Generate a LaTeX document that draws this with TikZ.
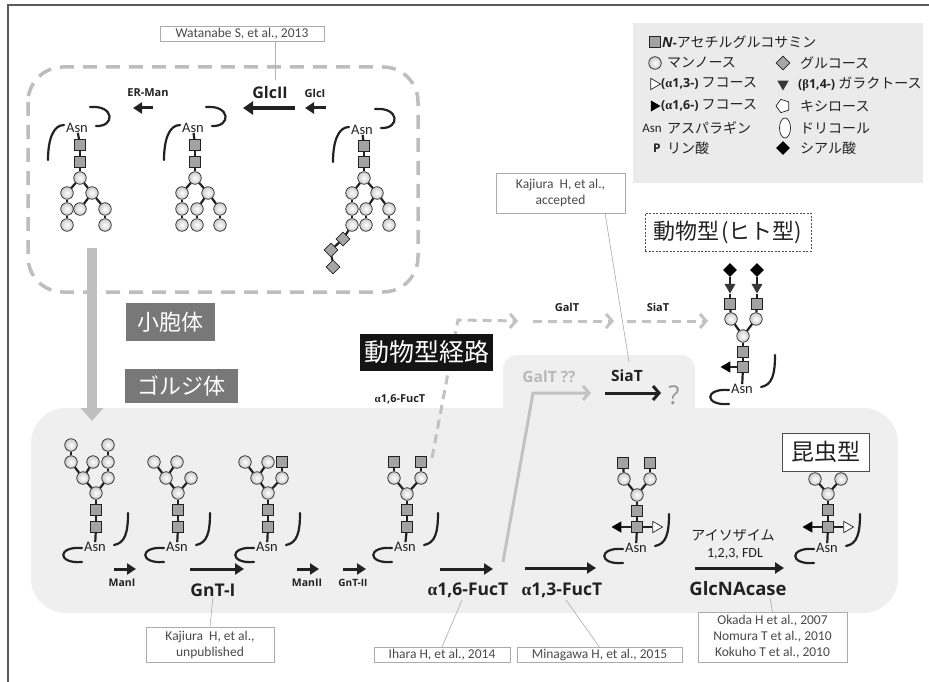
\documentclass[tikz,border=0pt]{standalone}
\usepackage{fontspec}
\setmainfont{Carlito}
\newfontfamily\osans{Open Sans}
\newfontfamily\jp{Noto Sans CJK JP}
\newfontfamily\grk{Liberation Serif}
\usetikzlibrary{arrows.meta,shapes.geometric,calc}
\newcommand\setfs[2]{\fontsize{#1}{#2}\selectfont}
\newcommand\alp{{\grk α}}
\newcommand\bet{{\grk β}}
\newcommand\lgb{\osans\bfseries\setfs{12.5pt}{12.5pt}}
\definecolor{frameC}{HTML}{5A5A5A}
\definecolor{erDash}{HTML}{BDBDBD}
\definecolor{golgiC}{HTML}{EFEFEF}
\definecolor{legC}{HTML}{EBEBEB}
\definecolor{labBox}{HTML}{787878}
\definecolor{pathC}{HTML}{C2C2C2}
\definecolor{citeT}{HTML}{4A4A4A}
\definecolor{citeB}{HTML}{ABABAB}
\definecolor{glcC}{HTML}{A3A3A3}
\definecolor{inkC}{HTML}{222222}
\tikzset{
  lnk/.style={draw=inkC,line width=2.2pt},
  pep/.style={draw=inkC,line width=2.2pt,line cap=round},
  sq/.style={rectangle,draw=inkC,line width=0.7pt,fill=glcC,minimum size=10.5pt,inner sep=0pt},
  mn/.style={circle,draw=inkC,line width=0.7pt,inner color=white,outer color=gray!40,minimum size=12.5pt,inner sep=0pt},
  glu/.style={diamond,draw=inkC,line width=0.7pt,fill=gray!70,minimum size=14pt,inner sep=0pt},
  sia/.style={diamond,fill=black,minimum size=14pt,inner sep=0pt},
  gal/.style={regular polygon,regular polygon sides=3,shape border rotate=180,fill=inkC!90,minimum size=13pt,inner sep=0pt},
  fucL/.style={regular polygon,regular polygon sides=3,shape border rotate=90,fill=black,minimum size=13pt,inner sep=0pt},
  fucR/.style={regular polygon,regular polygon sides=3,shape border rotate=-90,fill=white,draw=inkC,line width=0.7pt,minimum size=13pt,inner sep=0pt},
  fucRk/.style={regular polygon,regular polygon sides=3,shape border rotate=-90,fill=black,minimum size=13pt,inner sep=0pt},
  xyl/.style={regular polygon,regular polygon sides=5,shape border rotate=90,fill=white,draw=inkC,line width=0.7pt,minimum size=14pt,inner sep=0pt},
  dol/.style={ellipse,fill=white,draw=inkC,line width=0.7pt,minimum width=11pt,minimum height=20pt,inner sep=0pt},
  asn/.style={font=\setfs{14.5pt}{14.5pt},inner sep=0pt,text=inkC},
  ea/.style={draw=inkC,line width=3pt,-{Triangle[length=9pt,width=11pt]}},
  eab/.style={draw=inkC,line width=3.8pt,-{Triangle[length=10pt,width=13pt]}},
  garr/.style={draw=pathC,line width=3pt,dash pattern=on 9pt off 6pt,-{Straight Barb[length=6pt,width=14pt]}},
  gsolid/.style={draw=pathC,line width=3pt,-{Straight Barb[length=6pt,width=14pt]}},
  ksolid/.style={draw=inkC,line width=3pt,-{Straight Barb[length=6pt,width=14pt]}},
  elab/.style={font=\osans\bfseries,inner sep=0pt,text=inkC},
  cite/.style={draw=citeB,line width=0.8pt,fill=white,text=citeT,inner sep=0pt,align=center,font=\setfs{13.5pt}{16pt}},
  cline/.style={draw=gray!60,line width=0.7pt},
  lg/.style={anchor=west,inner sep=0pt,text=inkC,font=\jp\setfs{14pt}{14pt}},
  jlab/.style={fill=labBox,text=white,font=\jp\setfs{22pt}{22pt},inner sep=0pt},
  pepdn/.pic={
    \draw[pep] (-29,32) .. controls (-29,12) and (-24,-3) .. (-13,-3);
    \draw[pep] (13,-21) .. controls (38,-23) and (38,-1) .. (19,-2);
  },
  pepup/.pic={
    \draw[pep] (-13,1) .. controls (-38,-1) and (-38,17) .. (-13,15);
    \draw[pep] (33,-34) .. controls (33,-14) and (30,-4) .. (19,-2);
  }
}
\begin{document}
\begin{tikzpicture}[x=1pt,y=-1pt]
\useasboundingbox (0,0) rectangle (929,682);
% outer frame
\draw[frameC,line width=2pt] (929,5) -- (8,5) -- (8,682);

% Golgi compartment
\fill[golgiC,rounded corners=35pt] (31,408) rectangle (898,613);
\fill[golgiC,rounded corners=14pt] (503,355) rectangle (695,440);

% ER compartment
\draw[erDash,line width=3.5pt,dash pattern=on 14pt off 9pt,rounded corners=35pt] (28,67) rectangle (418,292);

% legend
\node[fill=legC,minimum width=290pt,minimum height=160pt,inner sep=0pt] (legend) at (778,103) {};
\node[sq] (lg1) at (655,42) {};
\node[lg] (lg1t) at (662,42) {{\osans\bfseries\itshape N}{\lgb -}アセチルグルコサミン};
\node[mn] (lg2) at (655,63) {};
\node[lg] (lg2t) at (667,63) {マンノース};
\node[glu] (lg3) at (783,63) {};
\node[lg] (lg3t) at (800,63) {グルコース};
\node[fucR] (lg4) at (654,84) {};
\node[lg] (lg4t) at (661,84) {{\lgb(\alp1,3-)} フコース};
\node[gal] (lg5) at (783,84) {};
\node[lg] (lg5t) at (798,84) {{\lgb(\bet1,4-)} ガラクトース};
\node[fucRk] (lg6) at (654,106) {};
\node[lg] (lg6t) at (661,106) {{\lgb(\alp1,6-)} フコース};
\node[xyl] (lg7) at (783,106) {};
\node[lg] (lg7t) at (800,106) {キシロース};
\node[inner sep=0pt,font=\setfs{13pt}{13pt},text=inkC] (lg8) at (652,128) {Asn};
\node[lg] (lg8t) at (667,128) {アスパラギン};
\node[dol] (lg9) at (785,128) {};
\node[lg] (lg9t) at (800,128) {ドリコール};
\node[inner sep=0pt,font=\osans\bfseries\setfs{12pt}{12pt},text=inkC] (lg10) at (657,148) {P};
\node[lg] (lg10t) at (667,148) {リン酸};
\node[sia] (lg11) at (783,148) {};
\node[lg] (lg11t) at (800,148) {シアル酸};

% citation boxes
\node[cite,minimum width=164pt,minimum height=15pt] (wat) at (242,34) {Watanabe S, et al., 2013};
\node[cite,minimum width=129pt,minimum height=40pt] (kjA) at (560.5,193) {Kajiura\ \ H, et al.,\\accepted};
\node[cite,minimum width=128pt,minimum height=35pt] (kjU) at (210,644.5) {Kajiura\ \ H, et al.,\\unpublished};
\node[cite,minimum width=136pt,minimum height=15pt] (ihara) at (442,655) {Ihara H, et al., 2014};
\node[cite,minimum width=165pt,minimum height=15pt] (mina) at (599.5,655) {Minagawa H, et al., 2015};
\node[cite,minimum width=149pt,minimum height=50pt] (okada) at (772.5,637) {Okada H et al., 2007\\Nomura T et al., 2010\\Kokuho T et al., 2010};

% compartment labels
\node[jlab,minimum width=89pt,minimum height=38pt] (vesicle) at (170.5,322) {小胞体};
\node[jlab,minimum width=113pt,minimum height=34pt] (golgi) at (181.5,386) {ゴルジ体};

% ER to Golgi transport
\coordinate (trA) at (92,248);
\coordinate (trB) at (92,421);
\draw[draw=gray!50,line width=10pt,-{Triangle[length=13pt,width=22pt]}] (trA) -- (trB);

% ER enzymes
\node[elab,font=\osans\bfseries\setfs{11pt}{11pt}] (erman) at (148,93) {ER-Man};
\node[elab,font=\osans\bfseries\setfs{16pt}{16pt}] (glcii) at (270,93) {GlcII};
\node[elab,font=\osans\bfseries\setfs{11pt}{11pt}] (glci) at (315,93) {GlcI};
\coordinate (ermA) at (153,108); \coordinate (ermB) at (133,108);
\coordinate (g2A) at (295,108); \coordinate (g2B) at (243,108);
\coordinate (g1A) at (326,108); \coordinate (g1B) at (305,108);
\draw[ea] (ermA) -- (ermB);
\draw[eab] (g2A) -- (g2B);
\draw[ea] (g1A) -- (g1B);
\coordinate (watL) at (275,80);
\draw[cline] (wat.south -| watL) -- (watL);

% ER glycan 1
\node[asn] (eaN) at (77,128) {Asn};
\node[sq] (eaS1) at (80,145) {}; \node[sq] (eaS2) at (80,162) {};
\node[mn] (eaC) at (80,178) {};
\node[mn] (eaL1) at (67,193) {}; \node[mn] (eaL2) at (67,209) {}; \node[mn] (eaL3) at (67,225) {};
\node[mn] (eaR1) at (92,193) {}; \node[mn] (eaR2) at (80,209) {};
\node[mn] (eaR3) at (105,209) {}; \node[mn] (eaR4) at (105,225) {};
\foreach \a/\b in {eaN/eaS1,eaS1/eaS2,eaS2/eaC,eaC/eaL1,eaL1/eaL2,eaL2/eaL3,eaC/eaR1,eaR1/eaR2,eaR1/eaR3,eaR3/eaR4}
  \draw[lnk] (\a) -- (\b);
\pic at (77,128) {pepdn};

% ER glycan 2
\node[asn] (ebN) at (193,128) {Asn};
\node[sq] (ebS1) at (195,145) {}; \node[sq] (ebS2) at (195,162) {};
\node[mn] (ebC) at (195,178) {};
\node[mn] (ebL1) at (182,193) {}; \node[mn] (ebL2) at (182,209) {}; \node[mn] (ebL3) at (182,225) {};
\node[mn] (ebR1) at (208,193) {}; \node[mn] (ebR2) at (197,209) {}; \node[mn] (ebR3) at (197,225) {};
\node[mn] (ebR4) at (220,209) {}; \node[mn] (ebR5) at (220,225) {};
\foreach \a/\b in {ebN/ebS1,ebS1/ebS2,ebS2/ebC,ebC/ebL1,ebL1/ebL2,ebL2/ebL3,ebC/ebR1,ebR1/ebR2,ebR2/ebR3,ebR1/ebR4,ebR4/ebR5}
  \draw[lnk] (\a) -- (\b);
\pic at (193,128) {pepdn};

% ER glycan 3
\node[asn] (ecN) at (362,130) {Asn};
\node[sq] (ecS1) at (364,146) {}; \node[sq] (ecS2) at (364,162) {};
\node[mn] (ecC) at (364,178) {};
\node[mn] (ecL1) at (352,193) {}; \node[mn] (ecL2) at (352,209) {}; \node[mn] (ecL3) at (352,225) {};
\node[mn] (ecR1) at (377,193) {}; \node[mn] (ecR2) at (366,209) {}; \node[mn] (ecR3) at (366,225) {};
\node[mn] (ecR4) at (389,209) {}; \node[mn] (ecR5) at (389,225) {};
\node[glu] (ecG1) at (343,239) {}; \node[glu] (ecG2) at (331,250) {}; \node[glu] (ecG3) at (333,267) {};
\foreach \a/\b in {ecN/ecS1,ecS1/ecS2,ecS2/ecC,ecC/ecL1,ecL1/ecL2,ecL2/ecL3,ecC/ecR1,ecR1/ecR2,ecR2/ecR3,ecR1/ecR4,ecR4/ecR5,ecL3/ecG1,ecG1/ecG2,ecG2/ecG3}
  \draw[lnk] (\a) -- (\b);
\pic at (362,130) {pepdn};

% animal-type route (dashed)
\coordinate (apA) at (432,458);
\coordinate (apK) at (458,320);
\coordinate (apB) at (518,321);
\coordinate (apC) at (533,321);
\coordinate (apD) at (614,321);
\coordinate (apE) at (627,321);
\coordinate (apF) at (708,321);
\draw[garr] (apA) -- (apK) -- (apB);
\draw[garr] (apC) -- (apD);
\draw[garr] (apE) -- (apF);
\node[elab,font=\osans\bfseries\setfs{11pt}{11pt}] (galtA) at (567,307) {GalT};
\node[elab,font=\osans\bfseries\setfs{11pt}{11pt}] (siatA) at (658,307) {SiaT};
\node[fill=inkC!60!black,text=white,font=\jp\setfs{25pt}{25pt},minimum width=133pt,minimum height=37pt,inner sep=0pt] (animalpath) at (426.5,352) {動物型経路};
\node[elab,font=\osans\bfseries\setfs{11pt}{11pt}] (fuc16s) at (400,399) {\alp1,6-FucT};

% human-type glycan
\node[draw=inkC!80,dash pattern=on 2pt off 1.5pt,line width=0.8pt,minimum width=166pt,minimum height=38pt,inner sep=0pt,font=\jp\setfs{22pt}{22pt},text=inkC] (humanlab) at (728,232) {動物型\hspace{2pt}(ヒト型)};
\node[asn] (anN) at (742,389) {Asn};
\node[sq] (anS1) at (743,367) {}; \node[sq] (anS2) at (743,352) {};
\node[mn] (anC) at (743,336) {};
\node[mn] (anL1) at (731,319) {}; \node[mn] (anR1) at (756,319) {};
\node[sq] (anL2) at (730,304) {}; \node[sq] (anR2) at (757,304) {};
\node[gal] (anL3) at (730,287) {}; \node[gal] (anR3) at (757,287) {};
\node[sia] (anL4) at (730,270) {}; \node[sia] (anR4) at (757,270) {};
\node[fucL] (anF) at (727,367) {};
\foreach \a/\b in {anN/anS1,anS1/anS2,anS2/anC,anC/anL1,anC/anR1,anL1/anL2,anR1/anR2,anL2/anL3,anR2/anR3,anL3/anL4,anR3/anR4,anS1/anF}
  \draw[lnk] (\a) -- (\b);
\pic at (742,389) {pepup};

% open branch towards sialylation
\coordinate (gqA) at (503,562);
\coordinate (gqK) at (533,393);
\coordinate (gqB) at (591,393);
\draw[gsolid] (gqA) -- (gqK) -- (gqB);
\coordinate (sqA) at (605,393);
\coordinate (sqB) at (661,393);
\draw[ksolid] (sqA) -- (sqB);
\node[elab,font=\osans\bfseries\setfs{15.5pt}{15.5pt},text=gray!55] (galtq) at (549,377) {GalT ??};
\node[elab,font=\osans\bfseries\setfs{15.5pt}{15.5pt}] (siatq) at (627,376) {SiaT};
\node[inner sep=0pt,font=\osans\setfs{26pt}{26pt},text=gray!80] (qmark) at (674,395) {?};
\coordinate (kaTop) at (605,213);
\coordinate (kaBot) at (629,362);
\draw[cline] (kaTop) -- (kaBot);

% Golgi glycan 1
\node[asn] (gaN) at (95,547) {Asn};
\node[sq] (gaS1) at (96,527) {}; \node[sq] (gaS2) at (96,510) {};
\node[mn] (gaC) at (96,493) {};
\node[mn] (gaL1) at (83,478) {}; \node[mn] (gaL2) at (71,462) {}; \node[mn] (gaL3) at (71,445) {};
\node[mn] (gaL4) at (93,462) {};
\node[mn] (gaR1) at (108,478) {}; \node[mn] (gaR2) at (108,462) {}; \node[mn] (gaR3) at (108,445) {};
\foreach \a/\b in {gaN/gaS1,gaS1/gaS2,gaS2/gaC,gaC/gaL1,gaL1/gaL2,gaL2/gaL3,gaL1/gaL4,gaC/gaR1,gaR1/gaR2,gaR2/gaR3}
  \draw[lnk] (\a) -- (\b);
\pic at (95,547) {pepup};

% Golgi glycan 2
\node[asn] (gbN) at (177,547) {Asn};
\node[sq] (gbS1) at (178,527) {}; \node[sq] (gbS2) at (178,510) {};
\node[mn] (gbC) at (178,493) {};
\node[mn] (gbL1) at (166,478) {}; \node[mn] (gbL2) at (154,462) {}; \node[mn] (gbL3) at (177,462) {};
\node[mn] (gbR1) at (191,478) {};
\foreach \a/\b in {gbN/gbS1,gbS1/gbS2,gbS2/gbC,gbC/gbL1,gbL1/gbL2,gbL1/gbL3,gbC/gbR1}
  \draw[lnk] (\a) -- (\b);
\pic at (177,547) {pepup};

% Golgi glycan 3
\node[asn] (gcN) at (267,547) {Asn};
\node[sq] (gcS1) at (268,527) {}; \node[sq] (gcS2) at (268,510) {};
\node[mn] (gcC) at (268,493) {};
\node[mn] (gcL1) at (257,478) {}; \node[mn] (gcL2) at (245,462) {}; \node[mn] (gcL3) at (268,462) {};
\node[mn] (gcR1) at (282,478) {}; \node[sq] (gcR2) at (282,462) {};
\foreach \a/\b in {gcN/gcS1,gcS1/gcS2,gcS2/gcC,gcC/gcL1,gcL1/gcL2,gcL1/gcL3,gcC/gcR1,gcR1/gcR2}
  \draw[lnk] (\a) -- (\b);
\pic at (267,547) {pepup};

% Golgi glycan 4
\node[asn] (gdN) at (405,547) {Asn};
\node[sq] (gdS1) at (407,527) {}; \node[sq] (gdS2) at (407,510) {};
\node[mn] (gdC) at (407,494) {};
\node[mn] (gdL1) at (394,478) {}; \node[mn] (gdR1) at (421,478) {};
\node[sq] (gdL2) at (394,462) {}; \node[sq] (gdR2) at (421,462) {};
\foreach \a/\b in {gdN/gdS1,gdS1/gdS2,gdS2/gdC,gdC/gdL1,gdC/gdR1,gdL1/gdL2,gdR1/gdR2}
  \draw[lnk] (\a) -- (\b);
\pic at (405,547) {pepup};

% Golgi glycan 5
\node[asn] (geN) at (636,548) {Asn};
\node[sq] (geS1) at (637,527) {}; \node[sq] (geS2) at (637,511) {};
\node[mn] (geC) at (637,495) {};
\node[mn] (geL1) at (624,479) {}; \node[mn] (geR1) at (650,479) {};
\node[sq] (geL2) at (623,463) {}; \node[sq] (geR2) at (650,463) {};
\node[fucL] (geF6) at (618,527) {}; \node[fucR] (geF3) at (656,527) {};
\foreach \a/\b in {geN/geS1,geS1/geS2,geS2/geC,geC/geL1,geC/geR1,geL1/geL2,geR1/geR2,geS1/geF6,geS1/geF3}
  \draw[lnk] (\a) -- (\b);
\pic at (636,548) {pepup};

% insect-type glycan
\node[draw=inkC!80,fill=white,line width=0.8pt,minimum width=87pt,minimum height=38pt,inner sep=0pt,font=\jp\setfs{23pt}{23pt},text=inkC] (insectlab) at (825.5,452) {昆虫型};
\node[asn] (gfN) at (827,548) {Asn};
\node[sq] (gfS1) at (828,527) {}; \node[sq] (gfS2) at (828,510) {};
\node[mn] (gfC) at (828,494) {};
\node[mn] (gfL1) at (815,479) {}; \node[mn] (gfR1) at (841,479) {};
\node[fucL] (gfF6) at (809,527) {}; \node[fucR] (gfF3) at (847,527) {};
\foreach \a/\b in {gfN/gfS1,gfS1/gfS2,gfS2/gfC,gfC/gfL1,gfC/gfR1,gfS1/gfF6,gfS1/gfF3}
  \draw[lnk] (\a) -- (\b);
\pic at (827,548) {pepup};

% Golgi enzymes
\coordinate (m1A) at (114,569); \coordinate (m1B) at (136,569);
\coordinate (n1A) at (190,569); \coordinate (n1B) at (244,569);
\coordinate (m2A) at (297,569); \coordinate (m2B) at (319,569);
\coordinate (n2A) at (343,569); \coordinate (n2B) at (366,569);
\coordinate (f6A) at (440,569); \coordinate (f6B) at (493,569);
\coordinate (f3A) at (525,568); \coordinate (f3B) at (596,568);
\coordinate (hxA) at (695,568); \coordinate (hxB) at (784,568);
\foreach \a/\b in {m1A/m1B,n1A/n1B,m2A/m2B,n2A/n2B,f6A/f6B,f3A/f3B,hxA/hxB}
  \draw[ea] (\a) -- (\b);
\node[elab,font=\osans\bfseries\setfs{10.5pt}{10.5pt}] (mani) at (122,583) {ManI};
\node[elab,font=\osans\bfseries\setfs{17.5pt}{17.5pt}] (gnti) at (213,590) {GnT-I};
\node[elab,font=\osans\bfseries\setfs{10.5pt}{10.5pt}] (manii) at (307,583) {ManII};
\node[elab,font=\osans\bfseries\setfs{10pt}{10pt}] (gntii) at (353,583) {GnT-II};
\node[elab,font=\osans\bfseries\setfs{17.5pt}{17.5pt}] (fuc16b) at (468,590) {\alp1,6-FucT};
\node[elab,font=\osans\bfseries\setfs{17.5pt}{17.5pt}] (fuc13b) at (562,590) {\alp1,3-FucT};
\node[elab,font=\osans\bfseries\setfs{18.5pt}{18.5pt}] (glcnac) at (738,589) {GlcNAcase};
\node[inner sep=0pt,font=\jp\setfs{14pt}{14pt},text=inkC] (isoz) at (733,535) {アイソザイム};
\node[inner sep=0pt,font=\setfs{14pt}{14pt},text=inkC] (isozn) at (735,554) {1,2,3, FDL};

% citation leaders
\coordinate (ihT) at (462,600);
\coordinate (miT) at (566,600);
\coordinate (okT) at (770,598);
\draw[cline] (kjU.north) -- (gnti.south);
\draw[cline] (ihara.north) -- (ihT);
\draw[cline] (mina.north) -- (miT);
\draw[cline] (okada.north) -- (okT);
\end{tikzpicture}
\end{document}
